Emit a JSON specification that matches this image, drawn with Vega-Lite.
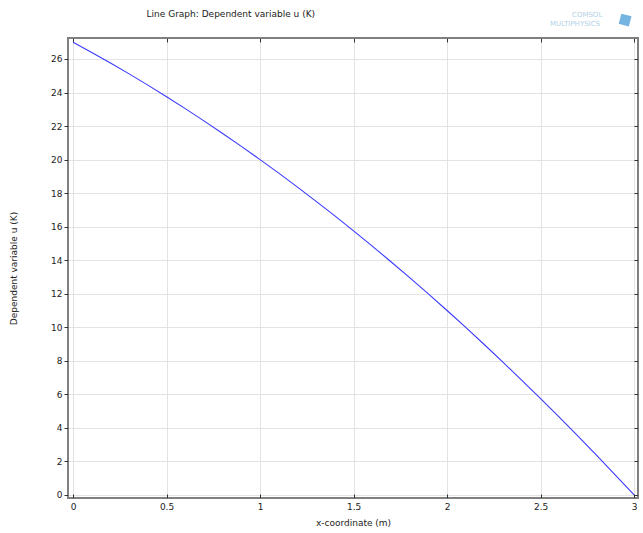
{
  "$schema": "https://vega.github.io/schema/vega-lite/v6.json",
  "width": 570,
  "height": 460,
  "autosize": {"type": "none"},
  "padding": {"left": 68, "top": 38, "right": 5, "bottom": 35},
  "background": "white",
  "title": {
    "text": "Line Graph: Dependent variable u (K)",
    "anchor": "start",
    "dx": 137,
    "offset": -8,
    "font": "DejaVu Sans",
    "fontSize": 9,
    "fontWeight": "normal",
    "color": "#222222"
  },
  "config": {
    "view": {"stroke": "#808080", "strokeWidth": 2},
    "axis": {
      "labelFont": "DejaVu Sans",
      "labelFontSize": 9,
      "labelColor": "#222222",
      "titleFont": "DejaVu Sans",
      "titleFontSize": 9,
      "titleFontWeight": "normal",
      "titleColor": "#222222",
      "domain": false,
      "tickColor": "#333333",
      "gridColor": "#e3e3e3",
      "gridWidth": 1
    }
  },
  "datasets": {
    "curve": [
      {"x": 0.0, "u": 27.0}, {"x": 0.1, "u": 26.39}, {"x": 0.2, "u": 25.76}, {"x": 0.3, "u": 25.11},
      {"x": 0.4, "u": 24.44}, {"x": 0.5, "u": 23.75}, {"x": 0.6, "u": 23.04}, {"x": 0.7, "u": 22.31},
      {"x": 0.8, "u": 21.56}, {"x": 0.9, "u": 20.79}, {"x": 1.0, "u": 20.0}, {"x": 1.1, "u": 19.19},
      {"x": 1.2, "u": 18.36}, {"x": 1.3, "u": 17.51}, {"x": 1.4, "u": 16.64}, {"x": 1.5, "u": 15.75},
      {"x": 1.6, "u": 14.84}, {"x": 1.7, "u": 13.91}, {"x": 1.8, "u": 12.96}, {"x": 1.9, "u": 11.99},
      {"x": 2.0, "u": 11.0}, {"x": 2.1, "u": 9.99}, {"x": 2.2, "u": 8.96}, {"x": 2.3, "u": 7.91},
      {"x": 2.4, "u": 6.84}, {"x": 2.5, "u": 5.75}, {"x": 2.6, "u": 4.64}, {"x": 2.7, "u": 3.51},
      {"x": 2.8, "u": 2.36}, {"x": 2.9, "u": 1.19}, {"x": 3.0, "u": 0.0}
    ],
    "logo": [
      {"x": 2.749, "u": 28.62, "label": "COMSOL"},
      {"x": 2.684, "u": 28.09, "label": "MULTIPHYSICS"}
    ],
    "cube": [
      {"x": 2.952, "u": 28.32}
    ]
  },
  "resolve": {"axis": {"x": "independent", "y": "independent"}},
  "layer": [
    {
      "data": {"name": "curve"},
      "mark": {"type": "line", "color": "#3a3aff", "strokeWidth": 1.1},
      "encoding": {
        "x": {
          "field": "x", "type": "quantitative",
          "scale": {"domain": [-0.027, 3.021], "nice": false, "zero": false},
          "axis": {
            "title": "x-coordinate (m)",
            "values": [0, 0.5, 1, 1.5, 2, 2.5, 3],
            "format": "~g",
            "tickSize": -4,
            "labelPadding": 8,
            "titleAnchor": "middle",
            "titlePadding": 7
          }
        },
        "y": {
          "field": "u", "type": "quantitative",
          "scale": {"domain": [-0.18, 27.25], "nice": false, "zero": false},
          "axis": {
            "title": "Dependent variable u (K)",
            "values": [0, 2, 4, 6, 8, 10, 12, 14, 16, 18, 20, 22, 24, 26],
            "tickSize": 4,
            "labelPadding": 2,
            "titlePadding": 32
          }
        }
      }
    },
    {
      "data": {"name": "curve"},
      "mark": {"type": "line", "opacity": 0},
      "encoding": {
        "x": {
          "field": "x", "type": "quantitative",
          "axis": {
            "orient": "top", "title": null, "labels": false, "grid": false,
            "values": [0, 0.5, 1, 1.5, 2, 2.5, 3], "tickSize": -4
          }
        },
        "y": {
          "field": "u", "type": "quantitative",
          "axis": {
            "orient": "right", "title": null, "labels": false, "grid": false,
            "values": [0, 2, 4, 6, 8, 10, 12, 14, 16, 18, 20, 22, 24, 26], "tickSize": -4
          }
        }
      }
    },
    {
      "data": {"name": "logo"},
      "mark": {"type": "text", "font": "DejaVu Sans", "fontSize": 7, "color": "#b3d1e8", "align": "center", "baseline": "middle"},
      "encoding": {
        "x": {"field": "x", "type": "quantitative", "axis": null},
        "y": {"field": "u", "type": "quantitative", "axis": null},
        "text": {"field": "label"}
      }
    },
    {
      "data": {"name": "cube"},
      "mark": {"type": "square", "size": 110, "color": "#5aa7dc", "opacity": 0.85, "angle": 15},
      "encoding": {
        "x": {"field": "x", "type": "quantitative", "axis": null},
        "y": {"field": "u", "type": "quantitative", "axis": null}
      }
    }
  ]
}
